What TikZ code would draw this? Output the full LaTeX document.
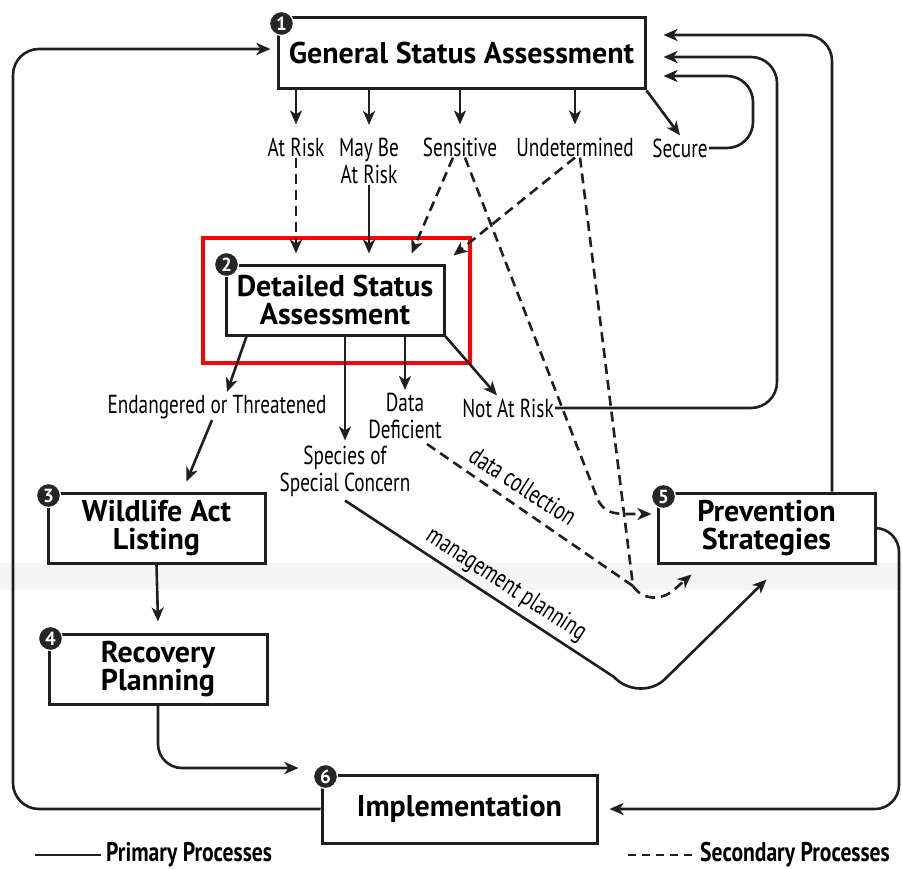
\documentclass[tikz,border=0pt]{standalone}
\usepackage{fontspec}
\setmainfont{PT Sans}
\newfontfamily\lblfont[FakeStretch=0.74]{PT Sans}
\newfontfamily\legfont[FakeStretch=0.8]{PT Sans}
\usetikzlibrary{arrows.meta,calc}
\begin{document}
\begin{tikzpicture}[x=1pt,y=-1pt,
  box/.style={draw=black!88, line width=3pt, align=center, inner sep=0pt, font=\fontsize{30}{28}\selectfont\bfseries},
  lbl/.style={align=center, inner sep=1pt, font=\lblfont\fontsize{26}{27}\selectfont},
  legtxt/.style={inner sep=1pt, anchor=west, font=\legfont\bfseries\fontsize{27}{28}\selectfont},
  numc/.style={circle, fill=black!85, draw=white, line width=1.2pt, inner sep=0pt, minimum size=24pt, text=white, font=\fontsize{19}{19}\selectfont\bfseries},
  conn/.style={draw=black!88, line width=2.6pt},
  pa/.style={conn, -{Stealth[length=14pt,width=12pt,inset=4pt]}},
  dl/.style={conn, dash pattern=on 10pt off 6pt},
  da/.style={pa, dash pattern=on 10pt off 6pt},
  hl/.style={draw=red, line width=4pt, inner sep=0pt},
]
\useasboundingbox (0,0) rectangle (902,869);
\fill[black!4] (0,563) rectangle (902,590);

% boxes
\node[box, minimum width=367pt, minimum height=71pt] (gsa) at (461.5,53.5) {General Status Assessment};
\node[box, minimum width=218pt, minimum height=70pt] (dsa) at (335,300) {Detailed Status\\Assessment};
\node[box, minimum width=217pt, minimum height=70pt] (wal) at (156.5,528) {Wildlife Act\\Listing};
\node[box, minimum width=218pt, minimum height=70pt] (rp) at (158,669) {Recovery\\Planning};
\node[box, minimum width=217pt, minimum height=70pt] (ps) at (766.5,528) {Prevention\\Strategies};
\node[box, minimum width=275pt, minimum height=68pt] (impl) at (459.5,809) {Implementation};

\node[hl, minimum width=267pt, minimum height=125pt] (hlr) at (336.5,300.5) {};

% numbers
\node[numc] at ($(gsa.north west)+(5,7)$) {1};
\node[numc] at ($(dsa.north west)+(2,1)$) {2};
\node[numc] at ($(wal.north west)+(2,4)$) {3};
\node[numc] at ($(rp.north west)+(3,6)$) {4};
\node[numc] at ($(ps.north west)+(7,5)$) {5};
\node[numc] at ($(impl.north west)+(5,3)$) {6};

% labels
\node[lbl] (atrisk) at (296,147) {At Risk};
\node[lbl] (maybe) at (369,161) {May Be\\At Risk};
\node[lbl] (sens) at (460,147) {Sensitive};
\node[lbl] (undet) at (575,147) {Undetermined};
\node[lbl] (secure) at (680,148) {Secure};
\node[lbl] (endg) at (217,407) {Endangered or Threatened};
\node[lbl] (ssc) at (345,471) {Species of\\Special Concern};
\node[lbl] (dd) at (405,416) {Data\\Deficient};
\node[lbl] (nar) at (508,408) {Not At Risk};
\node[lbl, rotate=-33] (dcl) at (523,486) {data collection};
\node[lbl, rotate=-33] (mpl) at (506,585) {management planning};

% from general status
\draw[pa] (gsa.south -| atrisk) -- ([yshift=12pt]atrisk.north);
\draw[pa] (gsa.south -| maybe) -- ([yshift=12pt]maybe.north);
\draw[pa] (gsa.south -| sens) -- ([yshift=12pt]sens.north);
\draw[pa] (gsa.south -| undet) -- ([yshift=12pt]undet.north);
\draw[pa] (gsa.south east) -- ([yshift=2pt]secure.north);

% into detailed
\draw[da] (atrisk.south) -- ([yshift=10pt]dsa.north -| atrisk);
\draw[pa] (maybe.south) -- ([yshift=10pt]dsa.north -| maybe);
\draw[da] ([xshift=-7pt]sens.south) -- ([xshift=-34pt,yshift=10pt]dsa.north east);
\draw[da] (undet.south) -- ([xshift=8pt,yshift=8pt]dsa.north east);

% long dashed
\draw[da] ([xshift=5pt]sens.south) -- (598,500) .. controls (606,515) and (615,514) .. ([xshift=-5pt,yshift=14pt]ps.west);
\coordinate (dcj) at (633,586);
\draw[dl] ([xshift=5pt]undet.south) -- (dcj);
\draw[dl] ([xshift=22pt,yshift=-4pt]dd.south) -- (dcj);
\draw[da] (dcj) .. controls (642,600) and (662,602) .. (676,588) -- ([xshift=35pt,yshift=-10pt]ps.south west);

% management planning
\draw[pa] ([xshift=0pt,yshift=-3pt]ssc.south) -- (614,677) .. controls (628,692) and (652,692) .. (665,679) -- ([yshift=-15pt]ps.south);

% out of detailed
\draw[pa] ([xshift=22pt]dsa.south west) -- ([xshift=10pt,yshift=2pt]endg.north);
\draw[pa] (dsa.south -| ssc) -- ([yshift=4pt]ssc.north);
\draw[pa] (dsa.south -| dd) -- ([yshift=2pt]dd.north);
\draw[pa] (dsa.south east) -- ([xshift=-11pt,yshift=2pt]nar.north);

% to wildlife act, recovery
\draw[pa] ([xshift=-5pt]endg.south) -- ([xshift=30pt,yshift=10pt]wal.north);
\draw[pa] (wal.south) -- ([yshift=11pt]rp.north);
\draw[pa, rounded corners=24pt] (rp.south) |- ([xshift=-22pt,yshift=41pt]impl.west);

% loops
\draw[pa, rounded corners=26pt] (impl.west) -| (13,49) -- ([xshift=-6pt,yshift=4.5pt]gsa.west);
\draw[pa, rounded corners=26pt] ([xshift=65.5pt]ps.north) |- ([xshift=17pt,yshift=18.5pt]gsa.east);
\draw[pa, rounded corners=26pt] (nar.east) -| (777,57) -- ([xshift=17pt,yshift=-3.5pt]gsa.east);
\draw[pa, rounded corners=26pt] (secure.east) -| (753,76) -- ([xshift=17pt,yshift=-22.5pt]gsa.east);
\draw[pa, rounded corners=24pt] (ps.east) -| (899,809) -- ([xshift=11pt]impl.east);

% legend
\node[legtxt] (leg1) at (105,855) {Primary Processes};
\node[legtxt] (leg2) at (699,855) {Secondary Processes};
\coordinate (l1) at (35,855);
\coordinate (l2) at (628,855);
\draw[conn] (l1) -- ([xshift=-4pt]leg1.west);
\draw[dl, dash pattern=on 8pt off 6pt] (l2) -- ([xshift=-3pt]leg2.west);
\end{tikzpicture}
\end{document}
